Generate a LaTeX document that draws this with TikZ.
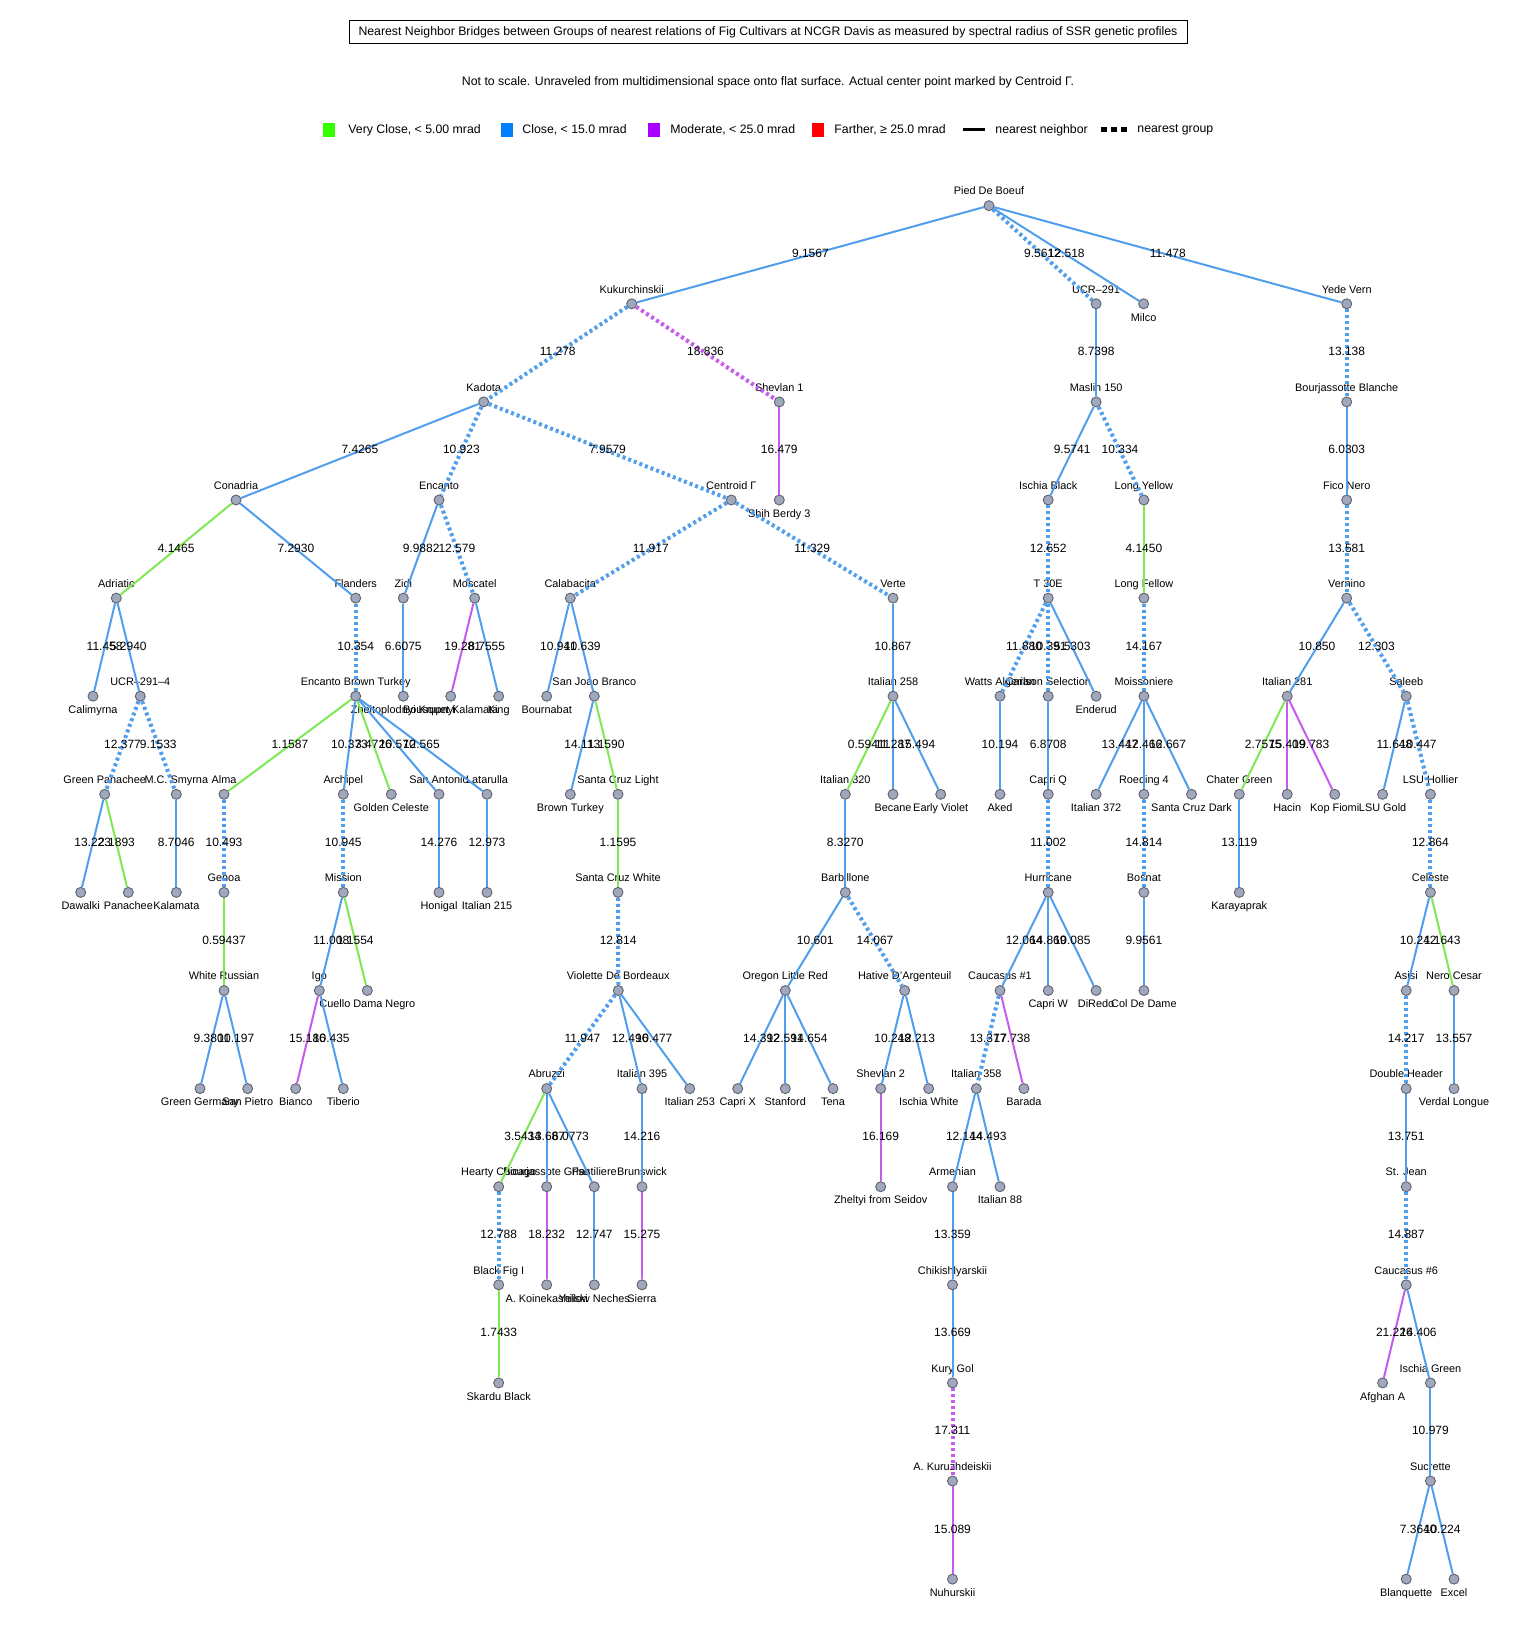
\documentclass[tikz,border=0pt]{standalone}
\usepackage{fontspec}
\setmainfont{Liberation Sans}
\definecolor{eblue}{RGB}{80,158,236}
\definecolor{egreen}{RGB}{128,232,84}
\definecolor{epurple}{RGB}{198,92,238}
\definecolor{vfill}{RGB}{160,168,190}
\definecolor{vdraw}{RGB}{95,98,110}
\definecolor{lgreen}{RGB}{51,255,0}
\definecolor{lblue}{RGB}{0,128,255}
\definecolor{lpurple}{RGB}{170,0,255}
\definecolor{lred}{RGB}{255,0,0}
\newcommand\hdrfont{\fontsize{6.15}{7.2}\selectfont}
\tikzset{
 vx/.style={circle,draw=vdraw,fill=vfill,line width=0.45pt,minimum size=5pt,inner sep=0pt},
 nlab/.style={font=\fontsize{5.45}{6}\selectfont,inner sep=0pt,text height=3.9pt,text depth=0pt},
 lup/.style={label={[nlab,yshift=7.35pt]center:#1}},
 ldn/.style={label={[nlab,yshift=-6.65pt]center:#1}},
 el/.style={midway,font=\fontsize{6}{7}\selectfont,inner sep=0pt,text height=4.3pt,text depth=0pt,yshift=0.65pt},
 solidline/.style={line width=1pt},
 dotline/.style={line width=2pt,dash pattern=on 1.5pt off 1.5pt},
 bsol/.style={solidline,draw=eblue},
 bdot/.style={dotline,draw=eblue},
 gsol/.style={solidline,draw=egreen},
 psol/.style={solidline,draw=epurple},
 pdot/.style={dotline,draw=epurple},
 lsq/.style={minimum width=6pt,minimum height=6.5pt,inner sep=0pt},
 ltx/.style={anchor=west,font=\hdrfont,inner sep=0pt},
}
\begin{document}
\begin{tikzpicture}[x=0.5pt,y=-0.5pt]
\useasboundingbox (0,0) rectangle (1536,1632);
\fill[white] (0,0) rectangle (1536,1632);
% header
\node[draw,line width=0.5pt,minimum width=419pt,minimum height=11.5pt,inner sep=0pt,font=\hdrfont] (title) at (768,32.5) {Nearest Neighbor Bridges between Groups of nearest relations of Fig Cultivars at NCGR Davis as measured by spectral radius of SSR genetic profiles};
\node[font=\hdrfont,inner sep=0pt] (sub) at (768,82) {Not to scale. Unraveled from multidimensional space onto flat surface. Actual center point marked by Centroid Γ.};
% legend
\node[lsq,fill=lgreen] (kg) at (329,130) {};
\node[ltx] (kgt) at (348,130) {Very Close, < 5.00 mrad};
\node[lsq,fill=lblue] (kb) at (507,130) {};
\node[ltx] (kbt) at (522,130) {Close, < 15.0 mrad};
\node[lsq,fill=lpurple] (kp) at (654,130) {};
\node[ltx] (kpt) at (670,130) {Moderate, < 25.0 mrad};
\node[lsq,fill=lred] (kr) at (818,130) {};
\node[ltx] (krt) at (834,130) {Farther, ≥ 25.0 mrad};
\coordinate (ln1) at (963,130); \coordinate (ln2) at (985,130);
\draw[line width=1.5pt] (ln1) -- (ln2);
\node[ltx] (lnt) at (995,130) {nearest neighbor};
\coordinate (lg1) at (1101,130); \coordinate (lg2) at (1130,130);
\draw[line width=2.5pt,dash pattern=on 3pt off 2pt] (lg1) -- (lg2);
\node[ltx] (lgt) at (1137,130) {nearest group};
% row 0
\node[vx,lup=Pied De Boeuf] (pdb) at (989,205.7) {};
% row 1
\node[vx,lup=Kukurchinskii] (kuk) at (631.7,303.8) {};
\node[vx,lup=UCR–291] (ucr) at (1096.1,303.8) {};
\node[vx,ldn=Milco] (milco) at (1143.6,303.8) {};
\node[vx,lup=Yede Vern] (yede) at (1346.7,303.8) {};
% row 2
\node[vx,lup=Kadota] (kad) at (483.7,401.9) {};
\node[vx,lup=Shevlan 1] (shev1) at (779.3,401.9) {};
\node[vx,lup=Maslin 150] (mas) at (1096.1,401.9) {};
\node[vx,lup=Bourjassotte Blanche] (bourb) at (1346.7,401.9) {};
% row 3
\node[vx,lup=Conadria] (con) at (236,500) {};
\node[vx,lup=Encanto] (enc) at (439,500) {};
\node[vx,lup=Centroid Γ] (cen) at (731.3,500) {};
\node[vx,ldn=Shih Berdy 3] (shih) at (779.3,500) {};
\node[vx,lup=Ischia Black] (isb) at (1048.2,500) {};
\node[vx,lup=Long Yellow] (ly) at (1143.9,500) {};
\node[vx,lup=Fico Nero] (fico) at (1346.7,500) {};
% row 4
\node[vx,lup=Adriatic] (adr) at (116.3,598.1) {};
\node[vx,lup=Flanders] (fla) at (355.7,598.1) {};
\node[vx,lup=Zidi] (zidi) at (403.3,598.1) {};
\node[vx,lup=Moscatel] (mosc) at (474.7,598.1) {};
\node[vx,lup=Calabacita] (cal) at (570.3,598.1) {};
\node[vx,lup=Verte] (verte) at (893,598.1) {};
\node[vx,lup=T 30E] (t30) at (1048.2,598.1) {};
\node[vx,lup=Long Fellow] (lf) at (1143.9,598.1) {};
\node[vx,lup=Vernino] (vern) at (1346.7,598.1) {};
% row 5
\node[vx,ldn=Calimyrna] (calim) at (93,696.2) {};
\node[vx,lup=UCR–291–4] (ucr4) at (140.3,696.2) {};
\node[vx,lup=Encanto Brown Turkey] (ebt) at (355.7,696.2) {};
\node[vx,ldn=Zheltoplodnyi Krupnyi] (zhel) at (403.3,696.2) {};
\node[vx,ldn=Bousquet Kalamata] (pluv) at (450.7,696.2) {};
\node[vx,ldn=King] (king) at (498.7,696.2) {};
\node[vx,ldn=Bournabat] (bourn) at (546.7,696.2) {};
\node[vx,lup=San Joao Branco] (sjb) at (594.3,696.2) {};
\node[vx,lup=Italian 258] (it258) at (893,696.2) {};
\node[vx,lup=Watts Algerian] (watts) at (1000,696.2) {};
\node[vx,lup=Carlson Selection] (carl) at (1048.2,696.2) {};
\node[vx,ldn=Enderud] (ender) at (1096.1,696.2) {};
\node[vx,lup=Moissoniere] (moiss) at (1143.9,696.2) {};
\node[vx,lup=Italian 281] (it281) at (1287.2,696.2) {};
\node[vx,lup=Saleeb] (sal) at (1406.2,696.2) {};
% row 6
\node[vx,lup=Green Panachee] (gp) at (104.7,794.3) {};
\node[vx,lup=M.C. Smyrna] (mcs) at (176.3,794.3) {};
\node[vx,lup=Alma] (alma) at (224,794.3) {};
\node[vx,lup=Archipel] (arch) at (343.3,794.3) {};
\node[vx,ldn=Golden Celeste] (gc) at (391.3,794.3) {};
\node[vx,lup=San Antonio] (sant) at (439,794.3) {};
\node[vx,lup=Latarulla] (lat) at (487,794.3) {};
\node[vx,ldn=Brown Turkey] (bt) at (570.3,794.3) {};
\node[vx,lup=Santa Cruz Light] (scl) at (618,794.3) {};
\node[vx,lup=Italian 320] (it320) at (845.3,794.3) {};
\node[vx,ldn=Becane] (bec) at (893,794.3) {};
\node[vx,ldn=Early Violet] (ev) at (940.7,794.3) {};
\node[vx,ldn=Aked] (aked) at (1000,794.3) {};
\node[vx,lup=Capri Q] (capq) at (1048.2,794.3) {};
\node[vx,ldn=Italian 372] (it372) at (1096.1,794.3) {};
\node[vx,lup=Roeding 4] (roed) at (1143.9,794.3) {};
\node[vx,ldn=Santa Cruz Dark] (scd) at (1191.5,794.3) {};
\node[vx,lup=Chater Green] (chat) at (1239.3,794.3) {};
\node[vx,ldn=Hacin] (hacin) at (1287.2,794.3) {};
\node[vx,ldn=Kop Fiomi] (kop) at (1334.7,794.3) {};
\node[vx,ldn=LSU Gold] (lsug) at (1382.6,794.3) {};
\node[vx,lup=LSU Hollier] (lsuh) at (1430.4,794.3) {};
% row 7
\node[vx,ldn=Dawalki] (daw) at (80.7,892.4) {};
\node[vx,ldn=Panachee] (pan) at (128.3,892.4) {};
\node[vx,ldn=Kalamata] (kal) at (176.3,892.4) {};
\node[vx,lup=Genoa] (gen) at (224,892.4) {};
\node[vx,lup=Mission] (miss) at (343.3,892.4) {};
\node[vx,ldn=Honigal] (hon) at (439,892.4) {};
\node[vx,ldn=Italian 215] (it215) at (487,892.4) {};
\node[vx,lup=Santa Cruz White] (scw) at (618,892.4) {};
\node[vx,lup=Barbillone] (barb) at (845.3,892.4) {};
\node[vx,lup=Hurricane] (hur) at (1048.2,892.4) {};
\node[vx,lup=Bosnat] (bos) at (1143.9,892.4) {};
\node[vx,ldn=Karayaprak] (kar) at (1239.3,892.4) {};
\node[vx,lup=Celeste] (cel) at (1430.4,892.4) {};
% row 8
\node[vx,lup=White Russian] (wr) at (224,990.5) {};
\node[vx,lup=Igo] (igo) at (319.3,990.5) {};
\node[vx,ldn=Cuello Dama Negro] (cdn) at (367.3,990.5) {};
\node[vx,lup=Violette De Bordeaux] (vdb) at (618.3,990.5) {};
\node[vx,lup=Oregon Little Red] (olr) at (785.3,990.5) {};
\node[vx,lup=Hative D'Argenteuil] (hda) at (904.7,990.5) {};
\node[vx,lup=Caucasus \#1] (cau1) at (1000,990.5) {};
\node[vx,ldn=Capri W] (capw) at (1048.2,990.5) {};
\node[vx,ldn=DiRedo] (dir) at (1096.1,990.5) {};
\node[vx,ldn=Col De Dame] (cdd) at (1143.9,990.5) {};
\node[vx,lup=Asisi] (asisi) at (1406.2,990.5) {};
\node[vx,lup=Nero Cesar] (nero) at (1454,990.5) {};
% row 9
\node[vx,ldn=Green Germany] (gg) at (200,1088.6) {};
\node[vx,ldn=San Pietro] (sp) at (247.7,1088.6) {};
\node[vx,ldn=Bianco] (bianco) at (295.7,1088.6) {};
\node[vx,ldn=Tiberio] (tib) at (343.3,1088.6) {};
\node[vx,lup=Abruzzi] (abr) at (546.7,1088.6) {};
\node[vx,lup=Italian 395] (it395) at (642,1088.6) {};
\node[vx,ldn=Italian 253] (it253) at (689.7,1088.6) {};
\node[vx,ldn=Capri X] (capx) at (737.7,1088.6) {};
\node[vx,ldn=Stanford] (stan) at (785.3,1088.6) {};
\node[vx,ldn=Tena] (tena) at (833,1088.6) {};
\node[vx,lup=Shevlan 2] (shev2) at (880.7,1088.6) {};
\node[vx,ldn=Ischia White] (isw) at (928.7,1088.6) {};
\node[vx,lup=Italian 358] (it358) at (976.3,1088.6) {};
\node[vx,ldn=Barada] (bar) at (1023.9,1088.6) {};
\node[vx,lup=Double Header] (dh) at (1406.2,1088.6) {};
\node[vx,ldn=Verdal Longue] (vl) at (1454,1088.6) {};
% row 10
\node[vx,lup=Hearty Chicago] (hc) at (498.7,1186.7) {};
\node[vx,lup=Bourjassote Grise] (bg) at (546.7,1186.7) {};
\node[vx,lup=Pastiliere] (past) at (594.3,1186.7) {};
\node[vx,lup=Brunswick] (brun) at (642,1186.7) {};
\node[vx,ldn=Zheltyi from Seidov] (zfs) at (880.7,1186.7) {};
\node[vx,lup=Armenian] (arm) at (952.5,1186.7) {};
\node[vx,ldn=Italian 88] (it88) at (1000,1186.7) {};
\node[vx,lup=St. Jean] (stj) at (1406.2,1186.7) {};
% row 11
\node[vx,lup=Black Fig I] (bfi) at (498.7,1284.8) {};
\node[vx,ldn=A. Koinekashiiski] (ako) at (546.7,1284.8) {};
\node[vx,ldn=Yellow Neches] (yn) at (594.3,1284.8) {};
\node[vx,ldn=Sierra] (sierra) at (642,1284.8) {};
\node[vx,lup=Chikishlyarskii] (chik) at (952.5,1284.8) {};
\node[vx,lup=Caucasus \#6] (cau6) at (1406.2,1284.8) {};
% row 12
\node[vx,ldn=Skardu Black] (skb) at (498.7,1382.9) {};
\node[vx,lup=Kury Gol] (kury) at (952.5,1382.9) {};
\node[vx,ldn=Afghan A] (afg) at (1382.6,1382.9) {};
\node[vx,lup=Ischia Green] (isg) at (1430.4,1382.9) {};
% row 13
\node[vx,lup=A. Kuruzhdeiskii] (aku) at (952.5,1481) {};
\node[vx,lup=Sucrette] (suc) at (1430.4,1481) {};
% row 14
\node[vx,ldn=Nuhurskii] (nuh) at (952.5,1579.1) {};
\node[vx,ldn=Blanquette] (blq) at (1406.2,1579.1) {};
\node[vx,ldn=Excel] (exc) at (1454,1579.1) {};
% edges
\draw[bsol] (pdb) -- node[el]{9.1567} (kuk);
\draw[bdot] (pdb) -- node[el]{9.5612} (ucr);
\draw[bsol] (pdb) -- node[el]{12.518} (milco);
\draw[bsol] (pdb) -- node[el]{11.478} (yede);
\draw[bdot] (kuk) -- node[el]{11.278} (kad);
\draw[pdot] (kuk) -- node[el]{18.836} (shev1);
\draw[bsol] (ucr) -- node[el]{8.7398} (mas);
\draw[bdot] (yede) -- node[el]{13.138} (bourb);
\draw[bsol] (kad) -- node[el]{7.4265} (con);
\draw[bdot] (kad) -- node[el]{10.923} (enc);
\draw[bdot] (kad) -- node[el]{7.9579} (cen);
\draw[psol] (shev1) -- node[el]{16.479} (shih);
\draw[bsol] (mas) -- node[el]{9.5741} (isb);
\draw[bdot] (mas) -- node[el]{10.334} (ly);
\draw[bsol] (bourb) -- node[el]{6.0303} (fico);
\draw[gsol] (con) -- node[el]{4.1465} (adr);
\draw[bsol] (con) -- node[el]{7.2930} (fla);
\draw[bsol] (enc) -- node[el]{9.9882} (zidi);
\draw[bdot] (enc) -- node[el]{12.579} (mosc);
\draw[bdot] (cen) -- node[el]{11.917} (cal);
\draw[bdot] (cen) -- node[el]{11.329} (verte);
\draw[bdot] (isb) -- node[el]{12.652} (t30);
\draw[gsol] (ly) -- node[el]{4.1450} (lf);
\draw[bdot] (fico) -- node[el]{13.581} (vern);
\draw[bsol] (adr) -- node[el]{11.458} (calim);
\draw[bsol] (adr) -- node[el]{5.2940} (ucr4);
\draw[bdot] (fla) -- node[el]{10.354} (ebt);
\draw[bsol] (zidi) -- node[el]{6.6075} (zhel);
\draw[psol] (mosc) -- node[el]{19.281} (pluv);
\draw[bsol] (mosc) -- node[el]{8.7555} (king);
\draw[bsol] (cal) -- node[el]{10.941} (bourn);
\draw[bsol] (cal) -- node[el]{10.639} (sjb);
\draw[bsol] (verte) -- node[el]{10.867} (it258);
\draw[bdot] (t30) -- node[el]{11.880} (watts);
\draw[bdot] (t30) -- node[el]{10.391} (carl);
\draw[bsol] (t30) -- node[el]{5.5303} (ender);
\draw[bdot] (lf) -- node[el]{14.167} (moiss);
\draw[bsol] (vern) -- node[el]{10.850} (it281);
\draw[bdot] (vern) -- node[el]{12.303} (sal);
\draw[bdot] (ucr4) -- node[el]{12.377} (gp);
\draw[bdot] (ucr4) -- node[el]{9.1533} (mcs);
\draw[gsol] (ebt) -- node[el]{1.1587} (alma);
\draw[bsol] (ebt) -- node[el]{10.373} (arch);
\draw[gsol] (ebt) -- node[el]{3.4726} (gc);
\draw[bsol] (ebt) -- node[el]{10.570} (sant);
\draw[bsol] (ebt) -- node[el]{12.565} (lat);
\draw[bsol] (sjb) -- node[el]{14.113} (bt);
\draw[gsol] (sjb) -- node[el]{1.1590} (scl);
\draw[gsol] (it258) -- node[el]{0.59411} (it320);
\draw[bsol] (it258) -- node[el]{11.287} (bec);
\draw[bsol] (it258) -- node[el]{15.494} (ev);
\draw[bsol] (watts) -- node[el]{10.194} (aked);
\draw[bsol] (carl) -- node[el]{6.8708} (capq);
\draw[bsol] (moiss) -- node[el]{13.447} (it372);
\draw[bsol] (moiss) -- node[el]{12.466} (roed);
\draw[bsol] (moiss) -- node[el]{12.667} (scd);
\draw[gsol] (it281) -- node[el]{2.7575} (chat);
\draw[psol] (it281) -- node[el]{15.409} (hacin);
\draw[psol] (it281) -- node[el]{19.783} (kop);
\draw[bsol] (sal) -- node[el]{11.648} (lsug);
\draw[bdot] (sal) -- node[el]{10.447} (lsuh);
\draw[bsol] (gp) -- node[el]{13.223} (daw);
\draw[gsol] (gp) -- node[el]{2.1893} (pan);
\draw[bsol] (mcs) -- node[el]{8.7046} (kal);
\draw[bdot] (alma) -- node[el]{10.493} (gen);
\draw[bdot] (arch) -- node[el]{10.945} (miss);
\draw[bsol] (sant) -- node[el]{14.276} (hon);
\draw[bsol] (lat) -- node[el]{12.973} (it215);
\draw[gsol] (scl) -- node[el]{1.1595} (scw);
\draw[bsol] (it320) -- node[el]{8.3270} (barb);
\draw[bdot] (capq) -- node[el]{11.002} (hur);
\draw[bdot] (roed) -- node[el]{14.814} (bos);
\draw[bsol] (chat) -- node[el]{13.119} (kar);
\draw[bdot] (lsuh) -- node[el]{12.864} (cel);
\draw[gsol] (gen) -- node[el]{0.59437} (wr);
\draw[bsol] (miss) -- node[el]{11.008} (igo);
\draw[gsol] (miss) -- node[el]{1.1554} (cdn);
\draw[bdot] (scw) -- node[el]{12.814} (vdb);
\draw[bsol] (barb) -- node[el]{10.601} (olr);
\draw[bdot] (barb) -- node[el]{14.067} (hda);
\draw[bsol] (hur) -- node[el]{12.064} (cau1);
\draw[bsol] (hur) -- node[el]{14.869} (capw);
\draw[bsol] (hur) -- node[el]{10.085} (dir);
\draw[bsol] (bos) -- node[el]{9.9561} (cdd);
\draw[bsol] (cel) -- node[el]{10.242} (asisi);
\draw[gsol] (cel) -- node[el]{1.1643} (nero);
\draw[bsol] (wr) -- node[el]{9.3801} (gg);
\draw[bsol] (wr) -- node[el]{10.197} (sp);
\draw[psol] (igo) -- node[el]{15.186} (bianco);
\draw[bsol] (igo) -- node[el]{10.435} (tib);
\draw[bdot] (vdb) -- node[el]{11.947} (abr);
\draw[bsol] (vdb) -- node[el]{12.496} (it395);
\draw[bsol] (vdb) -- node[el]{10.477} (it253);
\draw[bsol] (olr) -- node[el]{14.392} (capx);
\draw[bsol] (olr) -- node[el]{12.591} (stan);
\draw[bsol] (olr) -- node[el]{14.654} (tena);
\draw[bsol] (hda) -- node[el]{10.248} (shev2);
\draw[bsol] (hda) -- node[el]{12.213} (isw);
\draw[bdot] (cau1) -- node[el]{13.377} (it358);
\draw[psol] (cau1) -- node[el]{17.738} (bar);
\draw[bdot] (asisi) -- node[el]{14.217} (dh);
\draw[bsol] (nero) -- node[el]{13.557} (vl);
\draw[gsol] (abr) -- node[el]{3.5434} (hc);
\draw[bsol] (abr) -- node[el]{13.687} (bg);
\draw[bsol] (abr) -- node[el]{6.0773} (past);
\draw[bsol] (it395) -- node[el]{14.216} (brun);
\draw[psol] (shev2) -- node[el]{16.169} (zfs);
\draw[bsol] (it358) -- node[el]{12.144} (arm);
\draw[bsol] (it358) -- node[el]{14.493} (it88);
\draw[bsol] (dh) -- node[el]{13.751} (stj);
\draw[bdot] (hc) -- node[el]{12.788} (bfi);
\draw[psol] (bg) -- node[el]{18.232} (ako);
\draw[bsol] (past) -- node[el]{12.747} (yn);
\draw[psol] (brun) -- node[el]{15.275} (sierra);
\draw[bsol] (arm) -- node[el]{13.359} (chik);
\draw[bdot] (stj) -- node[el]{14.887} (cau6);
\draw[gsol] (bfi) -- node[el]{1.7433} (skb);
\draw[bsol] (chik) -- node[el]{13.669} (kury);
\draw[psol] (cau6) -- node[el]{21.226} (afg);
\draw[bsol] (cau6) -- node[el]{14.406} (isg);
\draw[pdot] (kury) -- node[el]{17.311} (aku);
\draw[bsol] (isg) -- node[el]{10.979} (suc);
\draw[psol] (aku) -- node[el]{15.089} (nuh);
\draw[bsol] (suc) -- node[el]{7.3640} (blq);
\draw[bsol] (suc) -- node[el]{10.224} (exc);
\end{tikzpicture}
\end{document}
